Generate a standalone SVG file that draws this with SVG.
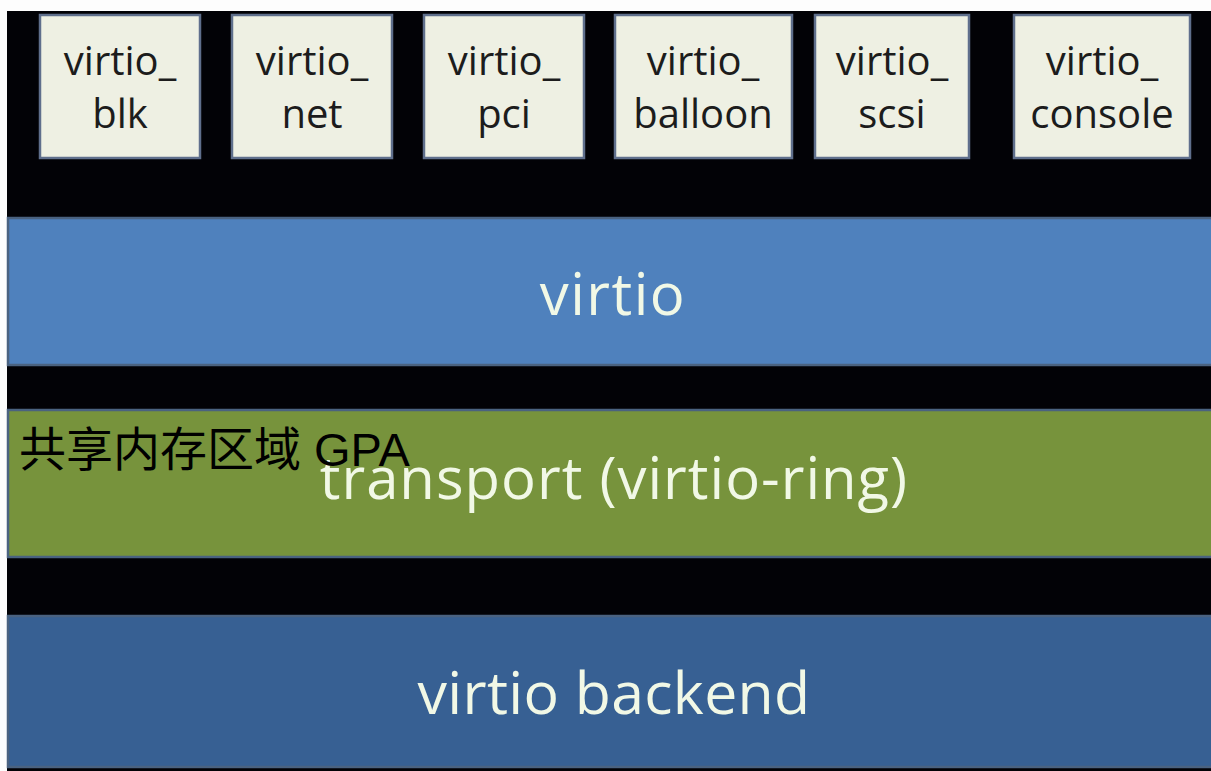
<svg xmlns="http://www.w3.org/2000/svg" width="1211" height="771" viewBox="0 0 1211 771">
  <style>
    .mod rect { fill: #eef0e3; stroke: #5f6f8c; stroke-width: 2.5; }
    .mod text { font-family: "Open Sans", "Noto Sans", sans-serif; font-size: 40px; fill: #1c1c1c; text-anchor: middle; }
    .band { stroke: #4a6280; stroke-width: 2.5; }
    .band-label { font-family: "Open Sans", "Noto Sans", sans-serif; fill: #f1f8e6; text-anchor: middle; }
    .note { font-family: "Liberation Sans", "Noto Sans CJK SC", sans-serif; font-size: 47px; fill: #000; }
  </style>

  <!-- page and black backdrop -->
  <rect x="0" y="0" width="1211" height="771" fill="#fdfdfd"/>
  <rect x="7" y="11" width="1204" height="760" fill="#020206"/>

  <!-- device drivers -->
  <g id="virtio_blk" class="mod">
    <rect x="40" y="15" width="160" height="143"/>
    <text x="120" y="75">virtio_</text>
    <text x="120" y="128">blk</text>
  </g>
  <g id="virtio_net" class="mod">
    <rect x="232" y="15" width="160" height="143"/>
    <text x="312" y="75">virtio_</text>
    <text x="312" y="128">net</text>
  </g>
  <g id="virtio_pci" class="mod">
    <rect x="424" y="15" width="160" height="143"/>
    <text x="504" y="75">virtio_</text>
    <text x="504" y="128">pci</text>
  </g>
  <g id="virtio_balloon" class="mod">
    <rect x="615" y="15" width="177" height="143"/>
    <text x="703" y="75">virtio_</text>
    <text x="703" y="128">balloon</text>
  </g>
  <g id="virtio_scsi" class="mod">
    <rect x="815" y="15" width="154" height="143"/>
    <text x="892" y="75">virtio_</text>
    <text x="892" y="128">scsi</text>
  </g>
  <g id="virtio_console" class="mod">
    <rect x="1014" y="15" width="176" height="143"/>
    <text x="1102" y="75">virtio_</text>
    <text x="1102" y="128">console</text>
  </g>

  <!-- virtio core layer -->
  <g id="virtio">
    <rect class="band" x="8" y="218" width="1210" height="147" fill="#4f81bd"/>
    <text class="band-label" x="613" y="315" font-size="58" letter-spacing="1.5">virtio</text>
  </g>

  <!-- transport layer -->
  <g id="transport">
    <rect class="band" x="8" y="410" width="1210" height="147" fill="#77933c"/>
    <text class="band-label" x="614" y="499" font-size="58" letter-spacing="1">transport (virtio-ring)</text>
  </g>

  <!-- shared memory annotation -->
  <g id="shared-memory">
    <text class="note" x="19" y="466">共享内存区域 GPA</text>
  </g>

  <!-- backend layer -->
  <g id="virtio_backend">
    <rect class="band" x="8" y="616" width="1210" height="151" fill="#376093"/>
    <text class="band-label" x="614" y="714" font-size="59" letter-spacing="0.3">virtio backend</text>
  </g>
</svg>
